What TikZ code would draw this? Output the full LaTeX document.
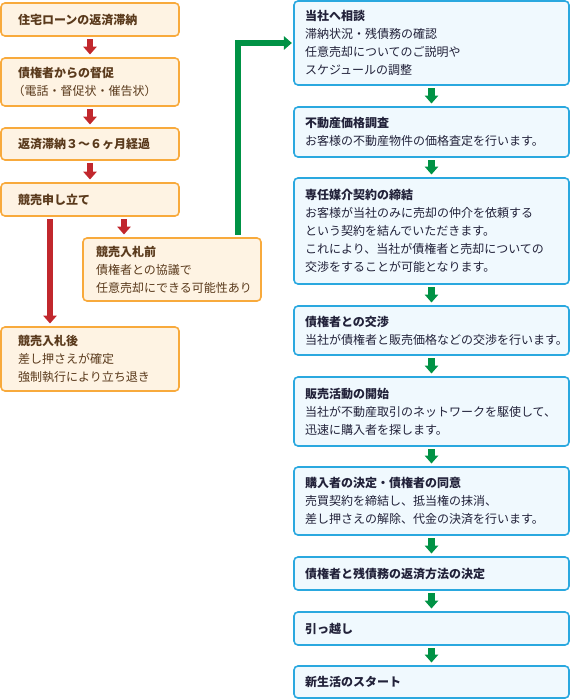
\documentclass[tikz,border=0pt]{standalone}
\usepackage{fontspec}
\setmainfont{Noto Sans CJK JP}
\usetikzlibrary{arrows.meta}
\definecolor{orangeline}{HTML}{F8AA3C}
\definecolor{orangefill}{HTML}{FEF3E3}
\definecolor{browntext}{HTML}{5A3A1C}
\definecolor{blueline}{HTML}{2AA8DF}
\definecolor{bluefill}{HTML}{F0F9FE}
\definecolor{navytext}{HTML}{22223A}
\definecolor{redarrow}{HTML}{C1272D}
\definecolor{greenarrow}{HTML}{009245}

\begin{document}
\begin{tikzpicture}[x=0.75pt, y=-0.75pt,
    every node/.style={font=\fontsize{9pt}{13.5pt}\selectfont},
    leftbox/.style={draw=orangeline, fill=orangefill, line width=1.2pt, rounded corners=3pt, text=browntext, align=left, text width=108pt, inner xsep=12.75pt, inner ysep=2pt, minimum width=133.5pt},
    bidbox/.style={leftbox, text width=114pt, inner xsep=9.75pt},
    rightbox/.style={draw=blueline, fill=bluefill, line width=1.2pt, rounded corners=3pt, text=navytext, align=left, text width=189.75pt, inner xsep=8.25pt, inner ysep=2pt, minimum width=206.25pt},
    redstep/.style={draw=redarrow, line width=5pt, -{Triangle[width=10pt,length=6pt]}, shorten <=2pt, shorten >=2pt},
    greenstep/.style={draw=greenarrow, line width=5pt, -{Triangle[width=10pt,length=6pt]}, shorten <=2pt, shorten >=2pt}]
    \useasboundingbox (0,0) rectangle (570,700);
    % left column
    \node[leftbox, minimum height=24.75pt] (b1) at (90,19.5) {\textbf{住宅ローンの返済滞納}};
    \node[leftbox, minimum height=36pt] (b2) at (90,82) {\textbf{債権者からの督促}\\\leavevmode\kern-0.45em（電話・督促状・催告状）};
    \node[leftbox, minimum height=24pt] (b3) at (90,144) {\textbf{返済滞納３～６ヶ月経過}};
    \node[leftbox, minimum height=24.75pt] (b4) at (90,199.5) {\textbf{競売申し立て}};
    \node[bidbox, minimum height=47.25pt] (b5) at (172,269.5) {\textbf{競売入札前}\\債権者との協議で\\任意売却にできる可能性あり};
    \node[leftbox, minimum height=48pt] (b6) at (90,359) {\textbf{競売入札後}\\差し押さえが確定\\強制執行により立ち退き};
    \draw[redstep] (b1) -- (b2);
    \draw[redstep] (b2) -- (b3);
    \draw[redstep] (b3) -- (b4);
    \draw[redstep] ([xshift=-30pt]b4.south) -- ([xshift=-30pt]b6.north);
    \draw[redstep] ([xshift=25.5pt]b4.south) -- ([xshift=-36pt]b5.north);
    % right column
    \node[rightbox, minimum height=63pt] (r1) at (431.5,43) {\textbf{当社へ相談}\\滞納状況・残債務の確認\\任意売却についてのご説明や\\スケジュールの調整};
    \node[rightbox, minimum height=37.5pt] (r2) at (431.5,132) {\textbf{不動産価格調査}\\お客様の不動産物件の価格査定を行います。};
    \node[rightbox, minimum height=79.5pt] (r3) at (431.5,231) {\textbf{専任媒介契約の締結}\\お客様が当社のみに売却の仲介を依頼する\\という契約を結んでいただきます。\\これにより、当社が債権者と売却についての\\交渉をすることが可能となります。};
    \node[rightbox, minimum height=36.75pt] (r4) at (431.5,330.5) {\textbf{債権者との交渉}\\当社が債権者と販売価格などの交渉を行います。};
    \node[rightbox, minimum height=51.75pt] (r5) at (431.5,411.5) {\textbf{販売活動の開始}\\当社が不動産取引のネットワークを駆使して、\\迅速に購入者を探します。};
    \node[rightbox, minimum height=51pt] (r6) at (431.5,501) {\textbf{購入者の決定・債権者の同意}\\売買契約を締結し、抵当権の抹消、\\差し押さえの解除、代金の決済を行います。};
    \node[rightbox, minimum height=24.75pt] (r7) at (431.5,573.5) {\textbf{債権者と残債務の返済方法の決定}};
    \node[rightbox, minimum height=24.75pt] (r8) at (431.5,628.5) {\textbf{引っ越し}};
    \node[rightbox, minimum height=24pt] (r9) at (431.5,682) {\textbf{新生活のスタート}};
    \foreach \a/\b in {r1/r2, r2/r3, r3/r4, r4/r5, r5/r6, r6/r7, r7/r8, r8/r9}
        \draw[greenstep] (\a) -- (\b);
    \draw[greenstep, shorten >=1pt] ([xshift=49.5pt]b5.north) |- (r1.west);
\end{tikzpicture}
\end{document}
